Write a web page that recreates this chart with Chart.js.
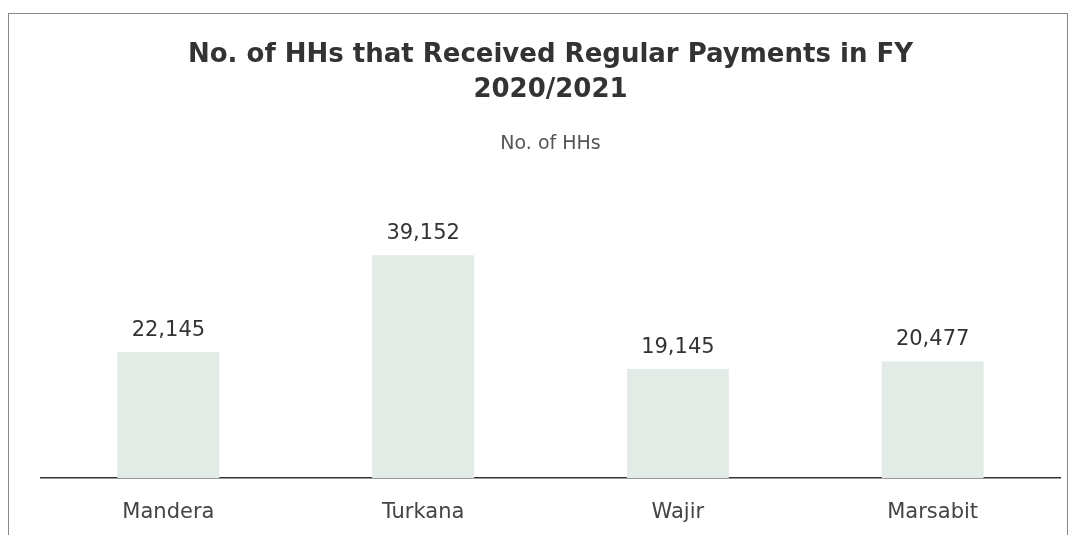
<!DOCTYPE html>
<html>
<head>
<meta charset="utf-8">
<script src="https://cdn.jsdelivr.net/npm/chart.js@4"></script>
<style>
  html, body { margin: 0; padding: 0; background: #fff; overflow: hidden; }
  #wrap { position: relative; width: 1080px; height: 535px; }
  #frame { position: absolute; left: 8px; top: 13px; width: 1060px; height: 540px;
           border: 1px solid #888; border-bottom: none; box-sizing: border-box; }
  canvas { position: absolute; left: 0; top: 0; }
</style>
</head>
<body>
<div id="wrap">
  <div id="frame"></div>
  <canvas id="hh" width="1080" height="535"></canvas>
</div>
<script>
const counties = ["Mandera", "Turkana", "Wajir", "Marsabit"];
const households = [22145, 39152, 19145, 20477];

// value labels above each bar
const valueLabels = {
  id: 'valueLabels',
  afterDatasetsDraw(chart) {
    const ctx = chart.ctx;
    const meta = chart.getDatasetMeta(0);
    ctx.save();
    ctx.font = '21px "DejaVu Sans"';
    ctx.fillStyle = '#333';
    ctx.textAlign = 'center';
    ctx.textBaseline = 'bottom';
    meta.data.forEach((bar, i) => {
      ctx.fillText(households[i].toLocaleString('en-US'), bar.x, bar.y - 11);
    });
    ctx.restore();
  }
};

new Chart(document.getElementById("hh"), {
  type: 'bar',
  data: {
    labels: counties,
    datasets: [{
      data: households,
      label: "No. of HHs",
      backgroundColor: "#e2ebe5",
      barPercentage: 0.4,
      categoryPercentage: 1
    }]
  },
  options: {
    responsive: false,
    animation: false,
    layout: { padding: { left: 41, right: 20, top: 0, bottom: 0 } },
    plugins: {
      legend: { display: false },
      tooltip: { enabled: false },
      title: {
        display: true,
        text: ['No. of HHs that Received Regular Payments in FY', '2020/2021'],
        color: '#333',
        font: { family: 'DejaVu Sans', size: 26, weight: 'bold', lineHeight: 1.35 },
        padding: { top: 38, bottom: 10 }
      },
      subtitle: {
        display: true,
        text: 'No. of HHs',
        color: '#555',
        font: { family: 'DejaVu Sans', size: 19 },
        padding: { top: 14, bottom: 50 }
      }
    },
    scales: {
      x: {
        grid: { display: false, drawTicks: false },
        border: { color: '#333', width: 1.5 },
        ticks: { color: '#444', font: { family: 'DejaVu Sans', size: 21 }, padding: 22 },
        afterFit(scale) { scale.height = 57; }
      },
      y: {
        display: false,
        min: 0,
        max: 48000
      }
    }
  },
  plugins: [valueLabels]
});
</script>
</body>
</html>
